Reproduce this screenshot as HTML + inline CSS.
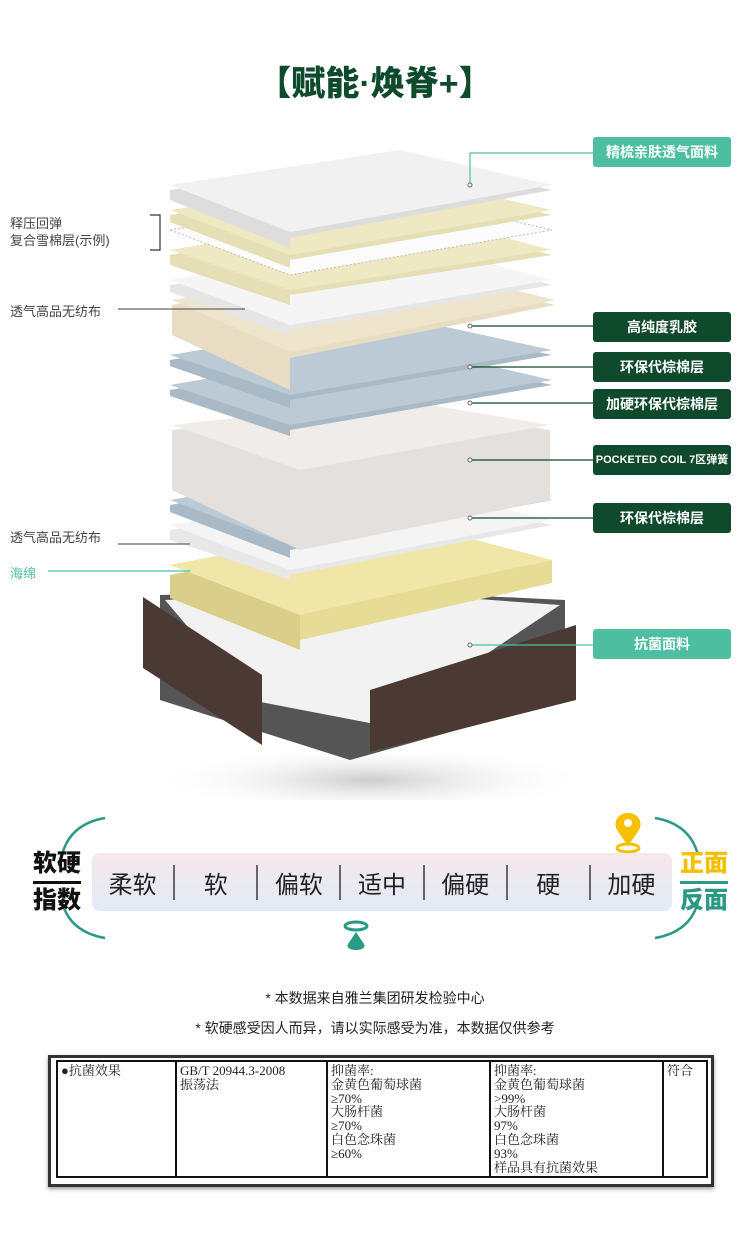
<!DOCTYPE html>
<html><head><meta charset="utf-8"><style>
body{margin:0;width:750px;height:1258px;background:#fff;position:relative;overflow:hidden;font-family:"Liberation Sans","Noto Sans CJK SC",sans-serif}
.a{position:absolute}
.lb{position:absolute;left:593px;width:138px;height:30px;line-height:30px;text-align:center;color:#fff;font-size:14px;font-weight:bold;border-radius:3px}
.dk{background:#0e4a2b}.tl{background:#4dbfa0}
.ll{position:absolute;font-size:13px;color:#444}
td{border:2px solid #111;vertical-align:top;font-family:"Liberation Serif","Noto Serif CJK SC",serif;font-size:13px;line-height:13.8px;padding:2px 3px;color:#222}
</style></head><body>
<div class="a" style="left:0;width:750px;top:56px;text-align:center;font-size:34px;font-weight:900;color:#0e4a2b">【赋能·焕脊+】</div>

<svg class="a" style="left:0;top:0" width="750" height="800">
<defs><radialGradient id="sh"><stop offset="0" stop-color="#ccc"/><stop offset="1" stop-color="#fff" stop-opacity="0"/></radialGradient></defs>
<ellipse cx="370" cy="780" rx="220" ry="35" fill="url(#sh)"/>
<polygon points="160,595 355,590 565,600 565,700 350,760 160,700" fill="#555"/>
<polygon points="165,600 355,590 560,605 380,725 250,700" fill="#f2f2f2"/>
<polygon points="143,597 262,675 262,745 143,668" fill="#4a3a33"/>
<polygon points="370,690 576,625 576,700 370,752" fill="#4a3a33"/>
<g>
<polygon points="170,575 400,530 552,570 300,625 300,650 170,598" fill="#d9cf8a"/>
<polygon points="170,565 400,520 552,560 300,615" fill="#efe6a8"/>
<polygon points="552,560 552,583 300,640 300,615" fill="#e6dc95"/>
<polygon points="170,530 400,490 552,525 290,575 290,580 170,540" fill="#e8e8e8"/>
<polygon points="170,525 400,485 552,520 290,570" fill="#f4f4f4"/>
<polygon points="170,505 400,465 552,500 290,550 290,558 170,512" fill="#a9b9c6"/>
<polygon points="170,500 400,460 552,495 290,545" fill="#bccad6"/>
<polygon points="172,430 400,405 550,430 550,500 300,550 172,490" fill="#e4e0de"/>
<polygon points="172,425 400,400 550,425 300,470" fill="#efecea"/>
<polygon points="170,390 400,350 552,385 290,430 290,436 170,396" fill="#a9b9c6"/>
<polygon points="170,385 400,345 552,380 290,425" fill="#bccad6"/>
<polygon points="170,360 400,322 552,355 290,400 290,408 170,366" fill="#a9b9c6"/>
<polygon points="170,355 400,317 552,350 290,395" fill="#bccad6"/>
<polygon points="172,305 400,268 555,305 290,358 290,390 172,335" fill="#e8dcc2"/>
<polygon points="172,300 400,262 555,300 290,352" fill="#efe4cc"/>
<polygon points="170,285 400,245 552,285 290,330 290,336 170,292" fill="#e6e6e6"/>
<polygon points="170,280 400,240 552,280 290,325" fill="#f5f5f5"/>
<polygon points="170,255 400,215 552,255 290,295 290,305 170,265" fill="#e5dfb5"/>
<polygon points="170,250 400,210 552,250 290,290" fill="#efe9c3"/>
<polygon points="170,230 400,195 552,230 290,275" fill="#fbfbfb" stroke="#bbb" stroke-dasharray="2,2"/>
<polygon points="170,215 400,180 552,215 290,260 290,268 170,222" fill="#e5dfb5"/>
<polygon points="170,210 400,175 552,210 290,255" fill="#efe9c3"/>
<polygon points="170,190 400,155 552,190 290,238 290,248 170,200" fill="#ddd"/>
<polygon points="170,185 400,150 552,185 290,232" fill="#f1f1f1"/>
</g>
<g stroke="#0e4a2b" stroke-width="1.2" fill="#fff">
<polyline points="470,185 470,153 593,153" fill="none" stroke="#4dbfa0"/>
<line x1="470" y1="326" x2="593" y2="326"/><line x1="470" y1="367" x2="593" y2="367"/>
<line x1="470" y1="403" x2="593" y2="403"/><line x1="470" y1="460" x2="593" y2="460"/>
<line x1="470" y1="518" x2="593" y2="518"/><line x1="470" y1="645" x2="593" y2="645" stroke="#4dbfa0"/>
<line x1="118" y1="309" x2="245" y2="309" stroke="#666"/>
<line x1="118" y1="544" x2="190" y2="544" stroke="#666"/>
<line x1="48" y1="571" x2="190" y2="571" stroke="#4dbfa0"/>
<polyline points="150,215 160,215 160,250 150,250" fill="none" stroke="#333"/>
</g>
<g fill="#fff" stroke="#666"><circle cx="470" cy="185" r="2"/><circle cx="470" cy="326" r="2"/><circle cx="470" cy="367" r="2"/><circle cx="470" cy="403" r="2"/><circle cx="470" cy="460" r="2"/><circle cx="470" cy="518" r="2"/><circle cx="470" cy="645" r="2"/></g>
</svg>

<div class="lb tl" style="top:137px">精梳亲肤透气面料</div>
<div class="lb dk" style="top:312px">高纯度乳胶</div>
<div class="lb dk" style="top:352px">环保代棕棉层</div>
<div class="lb dk" style="top:389px">加硬环保代棕棉层</div>
<div class="lb dk" style="top:445px;font-size:11px">POCKETED COIL 7区弹簧</div>
<div class="lb dk" style="top:503px">环保代棕棉层</div>
<div class="lb tl" style="top:629px">抗菌面料</div>
<div class="ll" style="left:10px;top:215px;line-height:17px">释压回弹<br>复合雪棉层(示例)</div>
<div class="ll" style="left:10px;top:301px">透气高品无纺布</div>
<div class="ll" style="left:10px;top:527px">透气高品无纺布</div>
<div class="ll" style="left:10px;top:563px;color:#4dbfa0">海绵</div>

<svg class="a" style="left:0;top:810px" width="750" height="140">
<path d="M105,8 Q70,14 62,45" stroke="#2a9a86" stroke-width="2.5" fill="none"/>
<path d="M105,128 Q70,122 62,92" stroke="#2a9a86" stroke-width="2.5" fill="none"/>
<path d="M655,8 Q690,14 698,45" stroke="#2a9a86" stroke-width="2.5" fill="none"/>
<path d="M655,128 Q690,122 698,92" stroke="#2a9a86" stroke-width="2.5" fill="none"/>
<path d="M628,3 C617,3 613,13 617,20 L628,36 L639,20 C643,13 639,3 628,3 Z" fill="#f5c000"/><circle cx="628" cy="13" r="4" fill="#fff"/>
<ellipse cx="628" cy="38" rx="11" ry="4" fill="none" stroke="#f5c000" stroke-width="3"/>
<ellipse cx="356" cy="116" rx="11" ry="4" fill="none" stroke="#2a9a86" stroke-width="3"/>
<path d="M356,122 L348,134 C344,142 368,142 364,134 Z" fill="#2a9a86"/>
</svg>
<div class="a" style="left:92px;top:853px;width:580px;height:58px;border-radius:8px;background:linear-gradient(#f5e8ea,#e2eaf8);display:flex;align-items:center">
<div style="display:flex;width:100%;font-size:24px;color:#222">
<div style="flex:1;text-align:center;border-right:2px solid #666">柔软</div><div style="flex:1;text-align:center;border-right:2px solid #666">软</div><div style="flex:1;text-align:center;border-right:2px solid #666">偏软</div><div style="flex:1;text-align:center;border-right:2px solid #666">适中</div><div style="flex:1;text-align:center;border-right:2px solid #666">偏硬</div><div style="flex:1;text-align:center;border-right:2px solid #666">硬</div><div style="flex:1;text-align:center">加硬</div></div></div>
<div class="a" style="left:33px;top:848px;font-size:24px;font-weight:900;line-height:32px;text-align:center;color:#111">软硬<div style="border-top:3px solid #111;margin:1px 0"></div>指数</div>
<div class="a" style="left:680px;top:848px;font-size:24px;font-weight:900;line-height:32px;text-align:center;color:#f5c000">正面<div style="border-top:3px solid #2a9a86;margin:1px 0"></div><span style="color:#2a9a86">反面</span></div>

<div class="a" style="left:0;width:750px;top:983px;text-align:center;font-size:14px;color:#222;line-height:30px">* 本数据来自雅兰集团研发检验中心<br>* 软硬感受因人而异，请以实际感受为准，本数据仅供参考</div>

<div class="a" style="left:48px;top:1055px;width:660px;height:126px;border:3px solid #333;box-shadow:0 2px 4px #999;background:#fff">
<table style="border-collapse:collapse;margin:2px 0 0 5px;width:652px;height:116px"><tr>
<td style="width:111px">●抗菌效果</td><td style="width:143px">GB/T 20944.3-2008<br>振荡法</td>
<td style="width:155px">抑菌率:<br>金黄色葡萄球菌<br>≥70%<br>大肠杆菌<br>≥70%<br>白色念珠菌<br>≥60%</td>
<td style="width:165px">抑菌率:<br>金黄色葡萄球菌<br>&gt;99%<br>大肠杆菌<br>97%<br>白色念珠菌<br>93%<br>样品具有抗菌效果</td><td>符合</td></tr></table></div>
</body></html>
